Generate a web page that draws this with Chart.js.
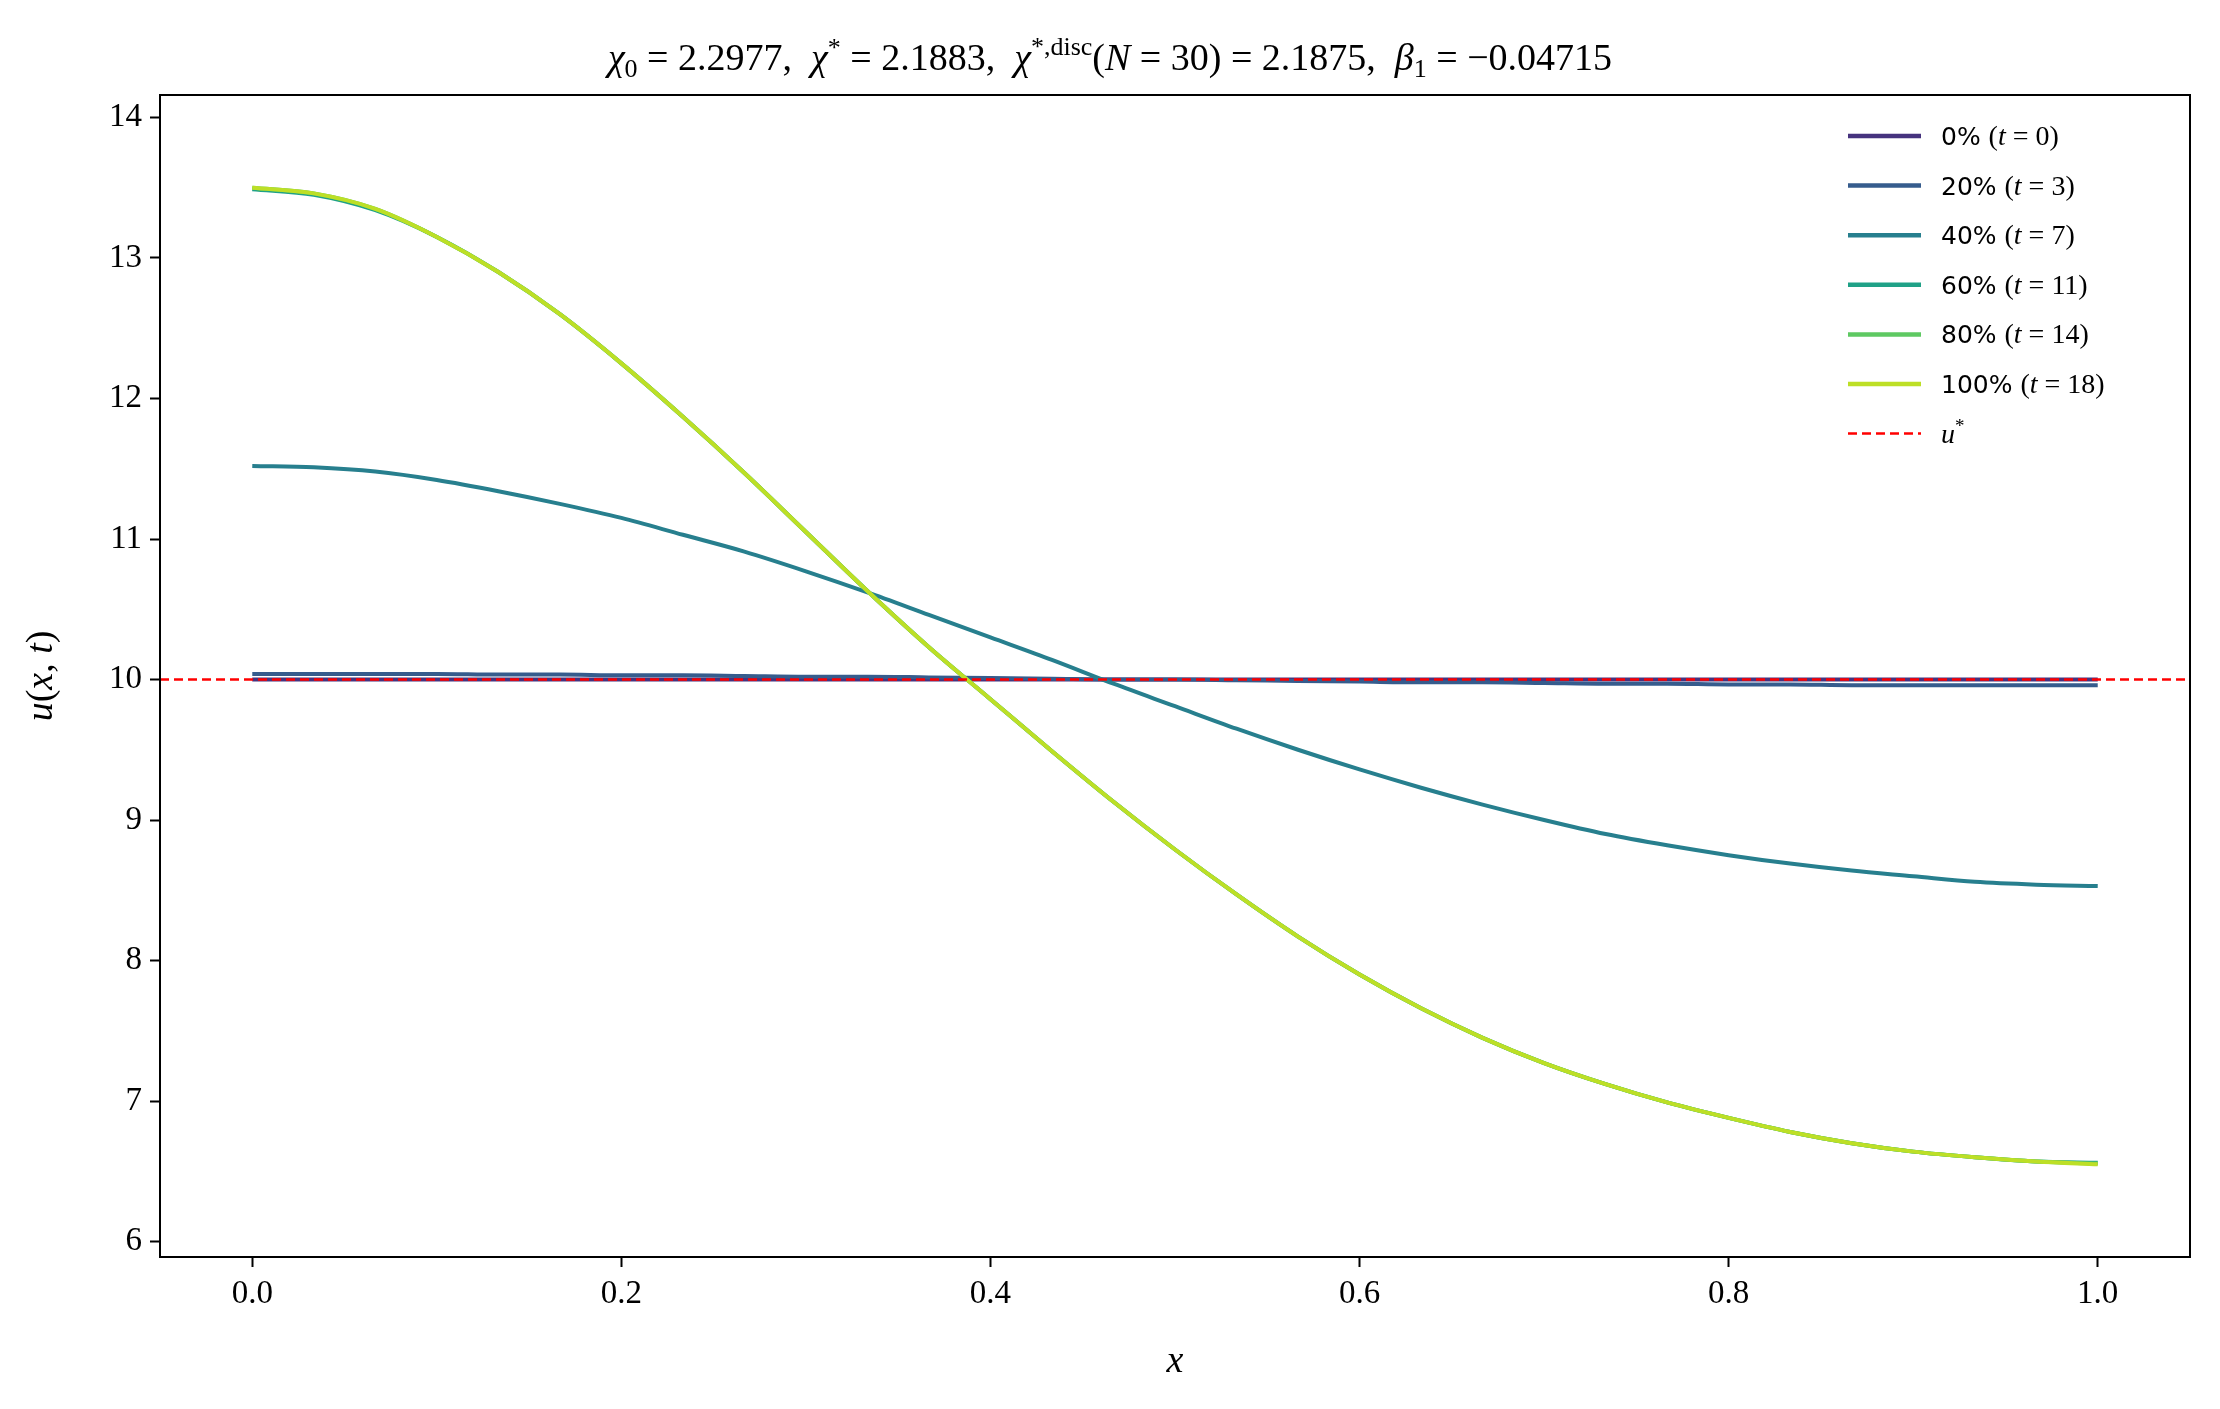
<!DOCTYPE html>
<html><head><meta charset="utf-8">
<script src="https://cdn.jsdelivr.net/npm/chart.js@4.4.0/dist/chart.umd.min.js"></script>
<style>html,body{margin:0;background:#fff}#w{width:2220px;height:1409px}</style>
</head><body><div id="w"><canvas id="c" width="2220" height="1409"></canvas></div>
<script>
const xs = Array.from({length:31},(_,i)=>i/30);
const u0   = [10,10,10,10,10,10,10,10,10,10,10,10,10,10,10,10,10,10,10,10,10,10,10,10,10,10,10,10,10,10,10];
const u20  = [10.04,10.04,10.04,10.04,10.035,10.035,10.03,10.03,10.025,10.02,10.02,10.015,10.01,10.005,10.0,10.0,9.995,9.99,9.985,9.98,9.98,9.975,9.97,9.97,9.965,9.965,9.96,9.96,9.96,9.96,9.96];
const u40  = [11.52,11.51,11.48,11.42,11.34,11.25,11.15,11.03,10.91,10.77,10.62,10.46,10.30,10.14,9.97,9.81,9.65,9.50,9.36,9.23,9.11,9.00,8.90,8.82,8.75,8.69,8.64,8.60,8.56,8.54,8.53];
const u60  = [13.49,13.45,13.34,13.15,12.90,12.60,12.25,11.87,11.47,11.05,10.63,10.23,9.86,9.49,9.13,8.79,8.47,8.17,7.90,7.66,7.45,7.27,7.12,6.99,6.88,6.78,6.70,6.64,6.60,6.57,6.56];
const u80  = [13.50,13.46,13.35,13.15,12.90,12.60,12.25,11.87,11.47,11.05,10.63,10.23,9.86,9.49,9.13,8.79,8.47,8.17,7.90,7.66,7.45,7.27,7.12,6.99,6.88,6.78,6.70,6.64,6.60,6.57,6.555];
const u100 = [13.50,13.46,13.35,13.15,12.90,12.60,12.25,11.87,11.47,11.05,10.63,10.23,9.86,9.49,9.13,8.79,8.47,8.17,7.90,7.66,7.45,7.27,7.12,6.99,6.88,6.78,6.70,6.64,6.60,6.57,6.55];
const uStar = 10;
const labelsPct = ['0%','20%','40%','60%','80%','100%'];
const labelsT = ['0','3','7','11','14','18'];
const colors = ['#46337e','#365c8d','#277f8e','#1fa187','#5ec962','#bddf26'];
const xTicks = [0,0.2,0.4,0.6,0.8,1.0];
const yTicks = [6,7,8,9,10,11,12,13,14];

const series=[u0,u20,u40,u60,u80,u100];
const datasets = series.map((s,k)=>({label:labelsPct[k],data:s.map((v,i)=>({x:xs[i],y:v})),borderColor:colors[k],borderWidth:4,pointRadius:0,cubicInterpolationMode:'monotone',order:10-k}));
datasets.push({label:'u*',data:[{x:-0.05,y:uStar},{x:1.05,y:uStar}],borderColor:'#ff0000',borderWidth:2.5,borderDash:[9,5],pointRadius:0,order:0});

const SERIF='"Liberation Serif","DejaVu Serif",serif';
function drawRuns(ctx,runs,x,y,align){
  let w=0; runs.forEach(r=>{ctx.font=r[1];w+=ctx.measureText(r[0]).width;});
  let cx = align==='center'? x-w/2 : x;
  ctx.textBaseline='alphabetic';ctx.textAlign='left';
  runs.forEach(r=>{ctx.font=r[1];ctx.fillText(r[0],cx,y+(r[2]||0));cx+=ctx.measureText(r[0]).width;});
}
const deco={id:'deco',afterDraw(ch){
  const ctx=ch.ctx,a=ch.chartArea;ctx.save();
  ctx.strokeStyle='#000';ctx.lineWidth=2;ctx.strokeRect(a.left,a.top,a.right-a.left,a.bottom-a.top);
  ctx.fillStyle='#000';
  const N='38px '+SERIF, I='italic 38px '+SERIF, S='26px '+SERIF;
  drawRuns(ctx,[['χ',I],['0',S,7],[' = 2.2977,  ',N],['χ',I],['*',S,-14],[' = 2.1883,  ',N],['χ',I],['*,disc',S,-15],['(',N],['N',I],[' = 30) = 2.1875,  ',N],['β',I],['1',S,7],[' = −0.04715',N]],1110,70,'center');
  drawRuns(ctx,[['x',I]],1175,1372,'center');
  ctx.save();ctx.translate(52,676);ctx.rotate(-Math.PI/2);
  drawRuns(ctx,[['u',I],['(',N],['x',I],[', ',N],['t',I],[')',N]],0,0,'center');ctx.restore();
  const LS='25px "DejaVu Sans",sans-serif', LI='italic 28px '+SERIF, LN='28px '+SERIF;
  ch.data.datasets.forEach((d,k)=>{
    const y=136+k*49.6;
    ctx.save();ctx.strokeStyle=d.borderColor;ctx.lineWidth=k<6?4.5:2.5;ctx.setLineDash(d.borderDash||[]);
    ctx.beginPath();ctx.moveTo(1848,y);ctx.lineTo(1921,y);ctx.stroke();ctx.restore();
    if(k<6) drawRuns(ctx,[[labelsPct[k]+' ',LS],['(',LN],['t',LI],[' = '+labelsT[k]+')',LN]],1941,y+9,'left');
    else drawRuns(ctx,[['u',LI],['*',"19px "+SERIF,-11]],1941,y+9,'left');
  });
  ctx.restore();
}};
new Chart(document.getElementById('c'),{type:'line',data:{datasets},
 options:{responsive:false,animation:false,devicePixelRatio:1,
  layout:{padding:{left:0,right:30,top:95,bottom:0}},
  plugins:{legend:{display:false},tooltip:{enabled:false}},
  scales:{
   x:{type:'linear',min:-0.05,max:1.05,afterFit(s){s.height=152;},
      afterBuildTicks(s){s.ticks=xTicks.map(v=>({value:v}));},
      border:{color:'#000',width:2},
      grid:{drawOnChartArea:false,drawTicks:true,tickLength:10,color:'#000',tickWidth:2},
      ticks:{color:'#000',font:{family:SERIF,size:33},padding:8,callback:v=>v.toFixed(1)}},
   y:{type:'linear',min:5.89,max:14.16,afterFit(s){s.width=160;},
      afterBuildTicks(s){s.ticks=yTicks.map(v=>({value:v}));},
      border:{color:'#000',width:2},
      grid:{drawOnChartArea:false,drawTicks:true,tickLength:10,color:'#000',tickWidth:2},
      ticks:{color:'#000',font:{family:SERIF,size:33},padding:8,callback:v=>String(v)}}
  }},plugins:[deco]});
</script></body></html>
